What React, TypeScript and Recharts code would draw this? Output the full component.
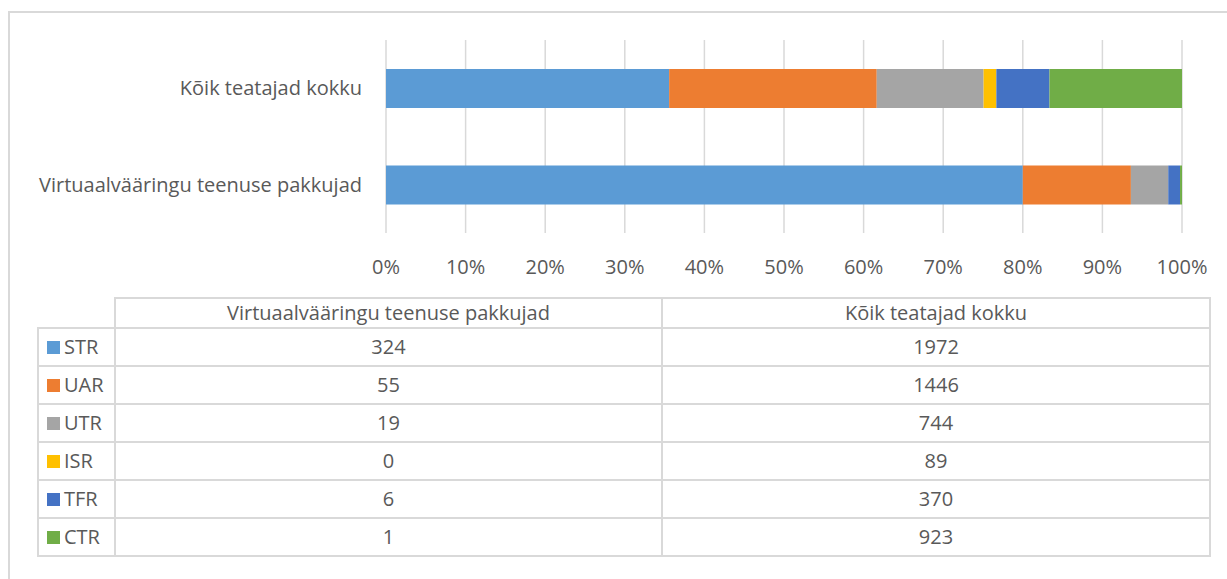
import { BarChart, Bar, XAxis, YAxis, CartesianGrid } from 'recharts';

const groups = ['Virtuaalvääringu teenuse pakkujad', 'Kõik teatajad kokku'];
const seriesNames = ['STR', 'UAR', 'UTR', 'ISR', 'TFR', 'CTR'];
const seriesColors = ['#5B9BD5', '#ED7D31', '#A5A5A5', '#FFC000', '#4472C4', '#70AD47'];
const providerValues = [324, 55, 19, 0, 6, 1];
const allValues = [1972, 1446, 744, 89, 370, 923];
const percentTicks = [0, 0.1, 0.2, 0.3, 0.4, 0.5, 0.6, 0.7, 0.8, 0.9, 1];

const groupValues = [providerValues, allValues];

const chartData = groups.map((name, g) => {
  const row: Record<string, string | number> = { name };
  seriesNames.forEach((s, i) => {
    row[s] = groupValues[g][i];
  });
  return row;
});

const FONT = '"Open Sans", Lato, sans-serif';
const TEXT = '#595959';
const LINE = '#d9d9d9';
const FS = 20;

const cell: React.CSSProperties = {
  border: `2px solid ${LINE}`,
  padding: 0,
  textAlign: 'center',
  fontSize: FS,
  color: TEXT,
  height: 36,
  lineHeight: '24px',
};

export default function App() {
  return (
    <div
      style={{
        position: 'absolute',
        left: 0,
        top: 0,
        width: 1227,
        height: 579,
        overflow: 'hidden',
        background: '#fff',
        fontFamily: FONT,
      }}
    >
      <div
        style={{
          position: 'absolute',
          left: 8,
          top: 11,
          width: 1400,
          height: 800,
          borderLeft: `2px solid ${LINE}`,
          borderTop: `2px solid ${LINE}`,
        }}
      />
      <div style={{ position: 'absolute', left: 0, top: 0 }}>
        <BarChart
          width={1227}
          height={290}
          data={chartData}
          layout="vertical"
          stackOffset="expand"
          margin={{ top: 40, right: 45, bottom: 7, left: 0 }}
        >
          <CartesianGrid horizontal={false} stroke={LINE} strokeWidth={1.5} />
          <XAxis
            type="number"
            domain={[0, 1]}
            ticks={percentTicks}
            tickFormatter={(v) => `${Math.round(v * 100)}%`}
            axisLine={false}
            tickLine={false}
            tickSize={0}
            tickMargin={27}
            height={50}
            tick={{ fontSize: FS, fill: TEXT, fontFamily: FONT }}
          />
          <YAxis
            type="category"
            dataKey="name"
            reversed
            width={386}
            axisLine={false}
            tickLine={false}
            tickSize={0}
            tickMargin={24}
            tick={{ fontSize: FS, fill: TEXT, fontFamily: FONT }}
          />
          {seriesNames.map((s, i) => (
            <Bar
              key={s}
              dataKey={s}
              stackId="a"
              fill={seriesColors[i]}
              barSize={39}
              isAnimationActive={false}
            />
          ))}
        </BarChart>
      </div>
      <table
        style={{
          position: 'absolute',
          left: 37,
          top: 297,
          borderCollapse: 'collapse',
          fontFamily: FONT,
          tableLayout: 'fixed',
        }}
      >
        <colgroup>
          <col style={{ width: 77 }} />
          <col style={{ width: 547 }} />
          <col style={{ width: 548 }} />
        </colgroup>
        <tbody>
          <tr>
            <td style={{ ...cell, border: 'none', height: 28 }} />
            {groups.map((g) => (
              <td key={g} style={{ ...cell, height: 28 }}>
                {g}
              </td>
            ))}
          </tr>
          {seriesNames.map((s, i) => (
            <tr key={s}>
              <td style={{ ...cell, textAlign: 'left', paddingLeft: 8 }}>
                <span
                  style={{
                    display: 'inline-block',
                    width: 13,
                    height: 13,
                    background: seriesColors[i],
                    marginRight: 4,
                  }}
                />
                {s}
              </td>
              {groupValues.map((vals, g) => (
                <td key={g} style={cell}>
                  {vals[i]}
                </td>
              ))}
            </tr>
          ))}
        </tbody>
      </table>
    </div>
  );
}
